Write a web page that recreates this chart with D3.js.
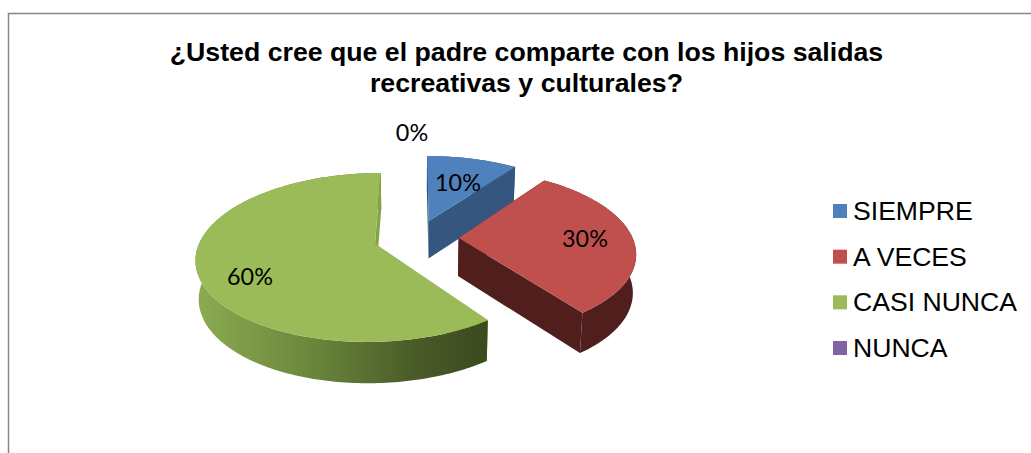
<!DOCTYPE html>
<html>
<head>
<meta charset="utf-8">
<title>Salidas recreativas y culturales</title>
<script src="https://cdn.jsdelivr.net/npm/d3@7/dist/d3.min.js"></script>
<style>
    html, body { margin: 0; padding: 0; background: #fff; overflow: hidden; }
    svg { display: block; }
    .title { font: bold 26.7px "Liberation Sans", Arial, sans-serif; fill: #000; text-anchor: middle; }
    .legend { font: 26.6px "Liberation Sans", Arial, sans-serif; fill: #000; }
    .pct { font: 23.4px Lato, "Open Sans", sans-serif; fill: #000; text-anchor: middle; }
</style>
</head>
<body>
<svg id="chart" width="1031" height="453"></svg>
<script>
// Chart values
const categories = ["SIEMPRE", "A VECES", "CASI NUNCA", "NUNCA"];
const values = [10, 30, 60, 0];
const titleLines = [
    "¿Usted cree que el padre comparte con los hijos salidas",
    "recreativas y culturales?"
];

// Styles per category
const topColors = ["#4f81bd", "#c0504d", "#9bbb59", "#8064a2"];
const wallColors = ["#34567f", "#4f1e1d", "#86a34c", "#54426b"];
const rimColors = ["#34567f", "#4f1e1d", "url(#greenRim)", "#54426b"];

// Label anchors, same order as categories
const labelAnchors = [[458, 191], [585, 247], [250, 285], [412, 141]];

// Pie projection settings
const centerX = 416;
const centerY = 238;
const radiusX = 174;
const radiusY = 80.4;
const perspective = 0.16;
const explodeX = 0.245;
const explodeZ = 0.23;

const svg = d3.select("#chart");

const defs = svg.append("defs");
const greenRim = defs.append("linearGradient")
    .attr("id", "greenRim")
    .attr("gradientUnits", "userSpaceOnUse")
    .attr("x1", 195).attr("x2", 486).attr("y1", 0).attr("y2", 0);
greenRim.append("stop").attr("offset", "0%").attr("stop-color", "#8cab52");
greenRim.append("stop").attr("offset", "35%").attr("stop-color", "#6f8c3e");
greenRim.append("stop").attr("offset", "75%").attr("stop-color", "#4a5c28");
greenRim.append("stop").attr("offset", "100%").attr("stop-color", "#3c4a1f");

// Frame (cut off by the page on the right and at the bottom)
svg.append("path")
    .attr("d", d3.line()([[8.5, 453], [8.5, 13.5], [1031, 13.5]]))
    .attr("fill", "none")
    .attr("stroke", "#868686")
    .attr("stroke-width", 1.5);

svg.append("text")
    .attr("class", "title")
    .selectAll("tspan")
    .data(titleLines)
    .join("tspan")
    .attr("x", 526.5)
    .attr("y", (d, i) => 61 + i * 31)
    .text(d => d);

// Disc point -> screen, z is the depth away from the viewer
function project(x, z, drop) {
    const s = 1 / (1 + perspective * z);
    const px = centerX + radiusX * x * s;
    const py = centerY - radiusY * z * s;
    if (!drop) return [px, py];
    return [px - (px - centerX) * 0.015, py + 22 + 16 * s];
}

const arcs = d3.pie().sort(null).value(d => d)(values);
const pieLine = d3.line();

arcs.forEach((arc, i) => {
    if (arc.endAngle <= arc.startAngle) return;

    const mid = (arc.startAngle + arc.endAngle) / 2;
    const offsetX = explodeX * Math.sin(mid);
    const offsetZ = explodeZ * Math.cos(mid);
    const steps = Math.ceil((arc.endAngle - arc.startAngle) / 0.02);
    const angles = d3.range(steps + 1)
        .map(k => arc.startAngle + (arc.endAngle - arc.startAngle) * k / steps);

    const rimAt = (drop) => angles.map(a =>
        project(offsetX + Math.sin(a), offsetZ + Math.cos(a), drop));
    const apexAt = (drop) => project(offsetX, offsetZ, drop);

    const topRim = rimAt(false);
    const lowRim = rimAt(true);
    const g = svg.append("g");

    const drawWall = (k) => g.append("path")
        .attr("d", pieLine([apexAt(false), topRim[k], lowRim[k], apexAt(true)]) + "Z")
        .attr("fill", wallColors[i]);

    // Start wall goes under the curved side, end wall over it
    drawWall(0);
    g.append("path")
        .attr("d", pieLine(topRim.concat(lowRim.slice().reverse())) + "Z")
        .attr("fill", rimColors[i]);
    drawWall(steps);

    // Top face
    g.append("path")
        .attr("d", pieLine([apexAt(false)].concat(topRim)) + "Z")
        .attr("fill", topColors[i]);
});

// Percentage labels
svg.append("g")
    .selectAll("text")
    .data(values)
    .join("text")
    .attr("class", "pct")
    .attr("x", (d, i) => labelAnchors[i][0])
    .attr("y", (d, i) => labelAnchors[i][1])
    .text(d => d + "%");

// Legend
const legendScale = d3.scalePoint()
    .domain(categories)
    .range([211, 348]);

const legend = svg.append("g")
    .selectAll("g")
    .data(categories)
    .join("g")
    .attr("transform", d => `translate(833, ${legendScale(d)})`);

legend.append("rect")
    .attr("y", -7)
    .attr("width", 14)
    .attr("height", 14)
    .attr("fill", (d, i) => topColors[i]);

legend.append("text")
    .attr("class", "legend")
    .attr("x", 20)
    .attr("y", 9)
    .text(d => d);
</script>
</body>
</html>
